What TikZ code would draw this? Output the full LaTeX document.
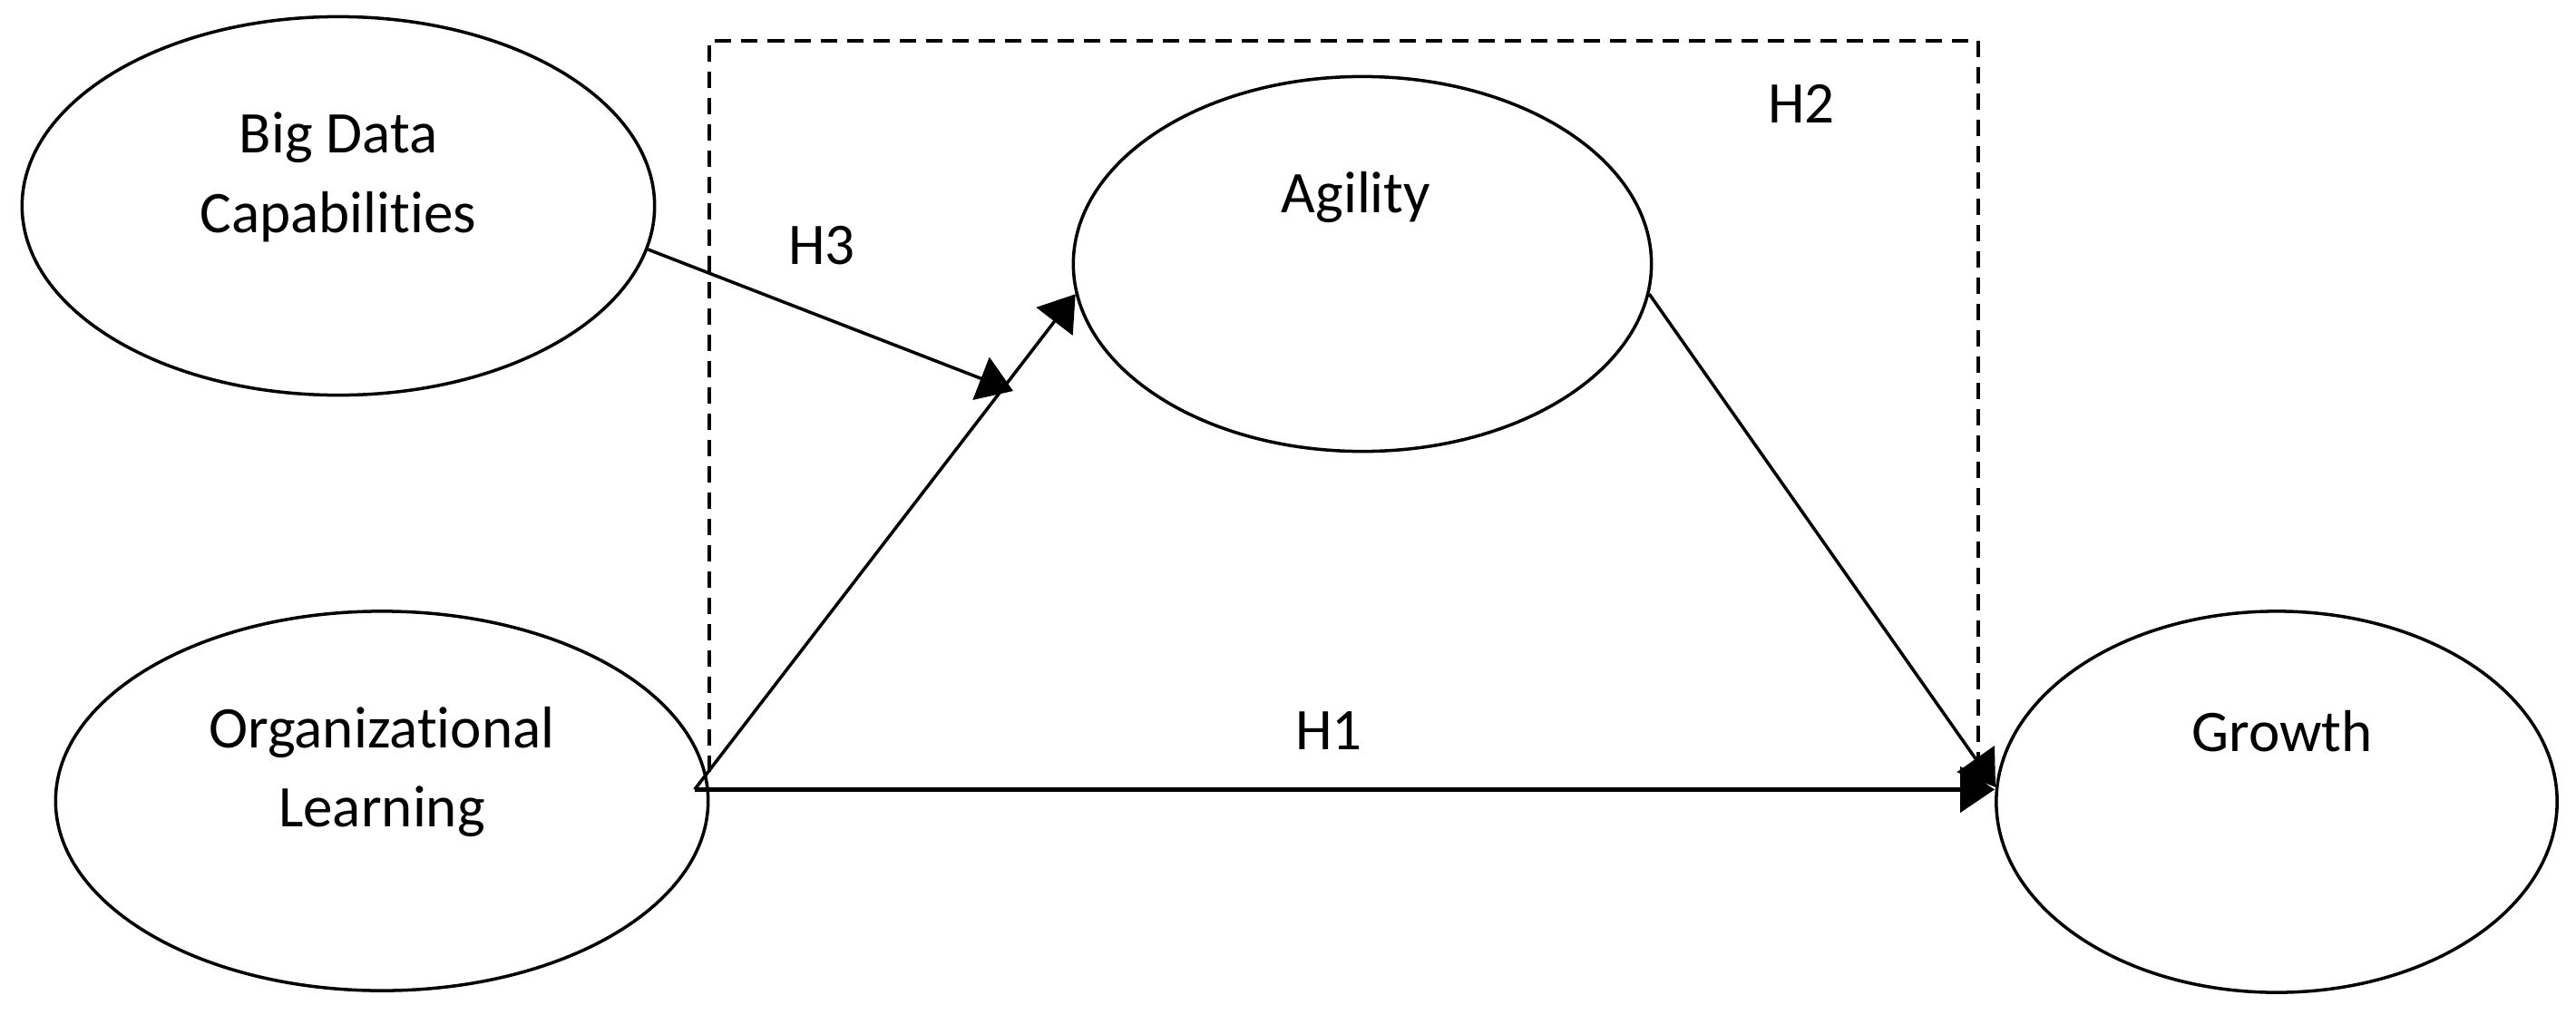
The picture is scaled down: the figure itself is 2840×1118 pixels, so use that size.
\documentclass[tikz,border=0pt]{standalone}
\usepackage{fontspec}
\setmainfont{Carlito}[Ligatures=NoCommon]
\usetikzlibrary{arrows.meta,shapes.geometric}
\begin{document}
\begin{tikzpicture}[x=0.01cm,y=-0.01cm,
  latent/.style={draw, ellipse, line width=1pt, inner sep=0pt},
  lbl/.style={font=\fontsize{18.5}{25}\selectfont, align=center, inner sep=0pt},
  conn/.style={line width=1pt, -{Triangle[length=0.38cm,width=0.5cm]}},
  box/.style={line width=1.1pt, dash pattern=on 0.18cm off 0.11cm}]
\fill[white] (0,0) rectangle (2840,1118);
\useasboundingbox (0,0) rectangle (2840,1118);
% dashed grouping box (open at the bottom)
\draw[box] (782,851) -- (782,45) -- (2181,45) -- (2181,851);
% latent variables
\node[latent, minimum width=6.97cm, minimum height=4.17cm] (bd) at (373,227) {};
\node[latent, minimum width=6.37cm, minimum height=4.13cm] (ag) at (1502,291) {};
\node[latent, minimum width=7.19cm, minimum height=4.18cm] (org) at (421,883) {};
\node[latent, minimum width=6.18cm, minimum height=4.20cm] (gr) at (2510,884) {};
% texts
\node[lbl] (bdt) at (373,195) {Big Data\\Capabilities};
\node[lbl] (agt) at (1495,218) {Agility};
\node[lbl] (orgt) at (421,851) {Organizational\\Learning};
\node[lbl] (grt) at (2516,806) {Growth};
% hypothesis labels
\node[lbl] (h3) at (906,271) {H3};
\node[lbl] (h2) at (1986,114) {H2};
\node[lbl] (h1) at (1465,806) {H1};
% connectors
\coordinate (os) at ([xshift=-0.16cm]org.2);
\coordinate (mid) at (1117,431);
\draw[conn] (os) -- (ag.186);
\draw[conn] (bd.-8) -- (mid);
\draw[conn, line width=1.5pt] (os) -- (os -| gr.west);
\draw[conn] (ag.-6) -- (gr.177);
\end{tikzpicture}
\end{document}
